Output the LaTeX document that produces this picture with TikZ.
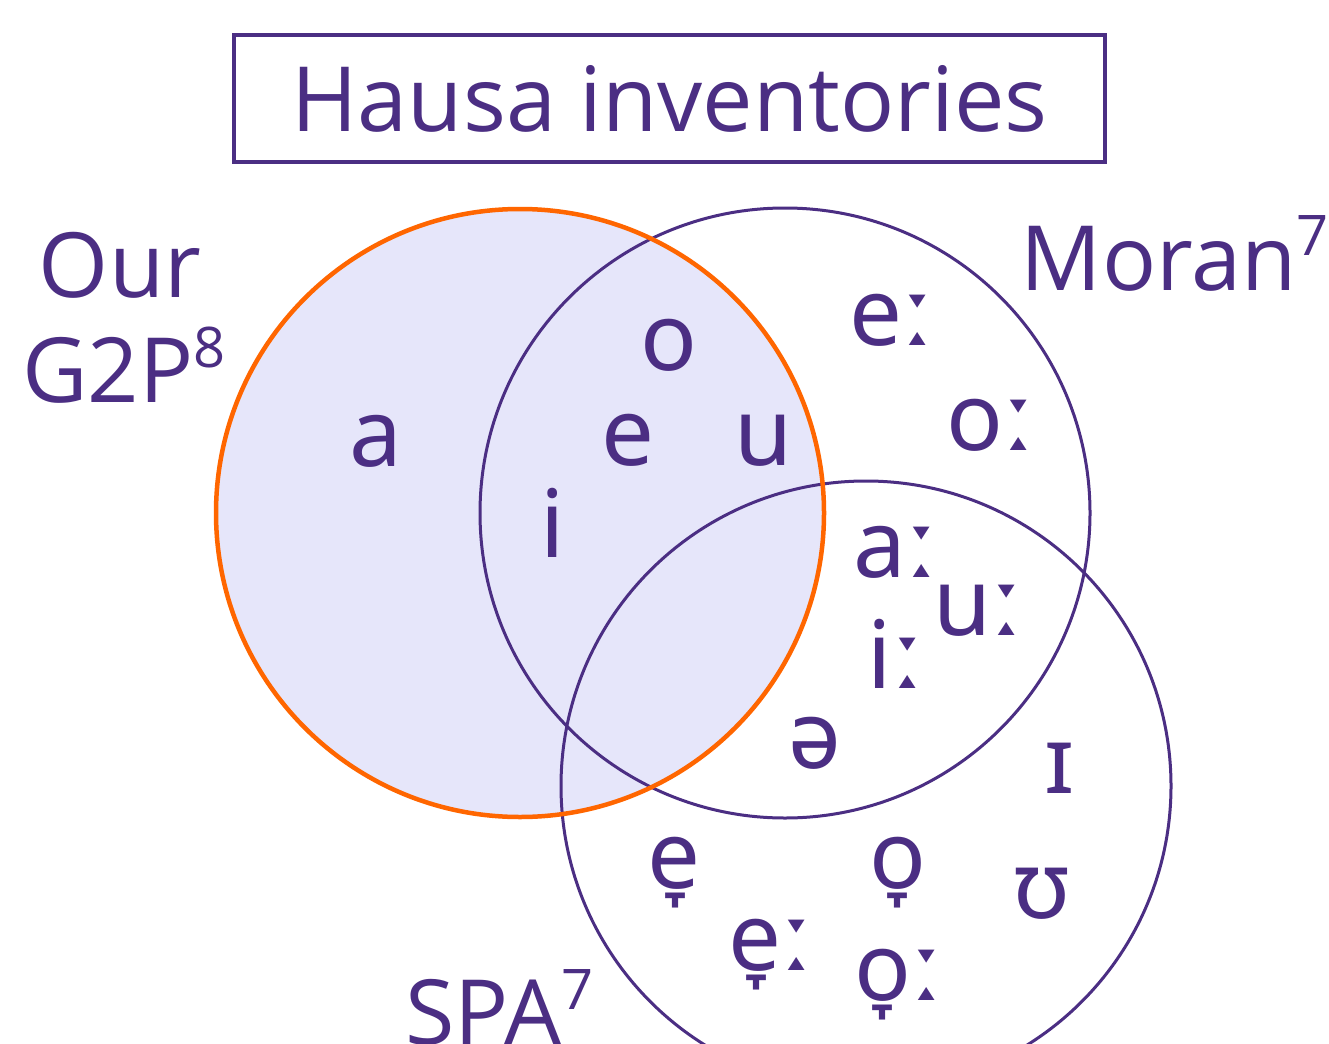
\documentclass[tikz,border=0pt]{standalone}
\usepackage{fontspec}
\setmainfont{Open Sans}
\newfontfamily\ipafont{Noto Sans}
\definecolor{uwpurple}{HTML}{4B2E83}
\definecolor{vennorange}{HTML}{FF6600}
\definecolor{lavender}{HTML}{E6E6FA}
\newcommand{\refmark}[1]{\raisebox{35pt}{\fontsize{56}{60}\selectfont #1}}
\tikzset{
  setcircle/.style={draw=uwpurple, line width=3pt},
  ourcircle/.style={draw=vennorange, line width=4.5pt},
  biglabel/.style={text=uwpurple, inner sep=0pt, font=\fontsize{90}{100}\selectfont},
  phone/.style={text=uwpurple, inner sep=0pt, anchor=base, font=\ipafont\fontsize{94}{100}\selectfont},
}
\begin{document}
\begin{tikzpicture}[x=1pt,y=-1pt]
\useasboundingbox (0,0) rectangle (1329,1043);
\fill[white] (0,0) rectangle (1329,1043);

% title box
\node[draw=uwpurple, line width=4pt, minimum width=871pt, minimum height=127pt, inner sep=0pt] (title) at (669.5,98.5) {};
\node[biglabel, anchor=base] (titletext) at (669.5,132) {Hausa inventories};

% the three sets
\fill[lavender] (520,513) circle (304);
\draw[setcircle] (785,513) circle (305);
\draw[setcircle] (866,786) circle (305);
\draw[ourcircle] (520,513) circle (304);

% set labels
\node[biglabel, anchor=base] (our) at (120,297) {Our};
\node[biglabel, anchor=base west] (g2p) at (22,402) {G2P\refmark{8}};
\node[biglabel, anchor=base east] (moran) at (1329,290) {Moran\refmark{7}};
\node[biglabel, anchor=base west] (spa) at (405,1044) {SPA\refmark{7}};

% phonemes
\node[phone] (a) at (376,466) {a};
\node[phone] (o) at (669,370) {o};
\node[phone] (e) at (628,465) {e};
\node[phone] (u) at (764,465) {u};
\node[phone] (i) at (553,557) {i};
\node[phone] (el) at (891,345) {eː};
\node[phone] (ol) at (990,450) {oː};
\node[phone] (al) at (895,577) {aː};
\node[phone] (ul) at (978,635) {uː};
\node[phone] (il) at (895,688) {iː};
\node[phone] (schwa) at (815,768) {ə};
\node[phone] (ih) at (1060,793) {ɪ};
\node[phone] (uh) at (1042,918) {ʊ};
\node[phone] (elo) at (674,888) {e̞};
\node[phone] (olo) at (898,888) {o̞};
\node[phone] (elol) at (770,970) {e̞ː};
\node[phone] (olol) at (898,1000) {o̞ː};
\end{tikzpicture}
\end{document}
